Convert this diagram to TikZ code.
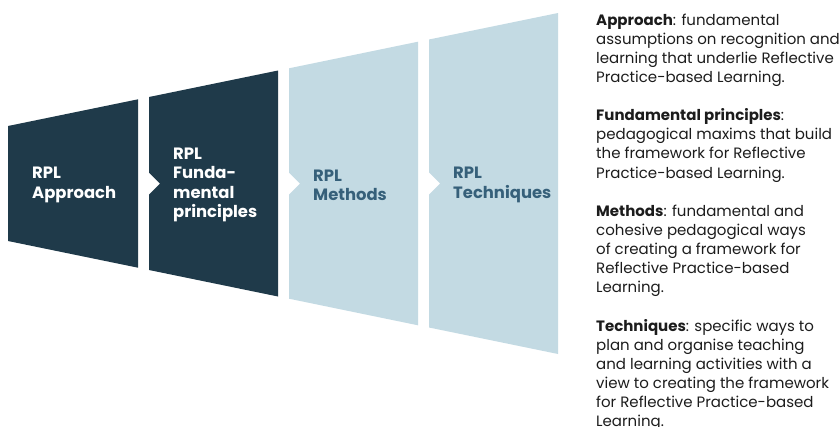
\documentclass[tikz,border=0pt]{standalone}
\usepackage{fontspec}
\setmainfont{Poppins}
\definecolor{navy}{HTML}{1F3A4A}
\definecolor{pale}{HTML}{C3DAE3}
\definecolor{paletext}{HTML}{36607A}
\definecolor{ink}{HTML}{1C1C1C}

\begin{document}
\begin{tikzpicture}[x=1pt,y=-1pt,
  label/.style={anchor=west, align=left, inner sep=0pt,
    font=\fontsize{16.4}{19.3}\selectfont\bfseries},
  desc/.style={anchor=base west, inner sep=0pt, text=ink,
    font=\fontsize{15}{19}\selectfont}]
\useasboundingbox (0,0) rectangle (840,426);

% four stages widening to the right; each later stage has a chevron notch
\fill[navy] (8,126) -- (138,99.3) -- (138,267.7) -- (8,241) -- cycle;
\fill[navy] (149,97) -- (278,70.5) -- (278,296.5) -- (149,270)
  -- (149,194.5) -- (160,183.5) -- (149,172.5) -- cycle;
\fill[pale] (289,68.3) -- (418,41.7) -- (418,325.3) -- (289,298.7)
  -- (289,194.5) -- (300,183.5) -- (289,172.5) -- cycle;
\fill[pale] (429,39.5) -- (558,13) -- (558,354) -- (429,327.5)
  -- (429,194.5) -- (440,183.5) -- (429,172.5) -- cycle;

% stage titles
\node[label, text=white]    (s1) at (32,185)  {RPL\\Approach};
\node[label, text=white]    (s2) at (173,185) {RPL\\Funda-\\mental\\principles};
\node[label, text=paletext] (s3) at (313,185) {RPL\\Methods};
\node[label, text=paletext] (s4) at (453,185) {RPL\\Techniques};

% definitions, one line per baseline
\foreach \i/\t in {
  0/{\textbf{Approach}: fundamental},
  1/{assumptions on recognition and},
  2/{learning that underlie Reflective},
  3/{Practice-based Learning.},
  5/{\textbf{Fundamental principles}:},
  6/{pedagogical maxims that build},
  7/{the framework for Reflective},
  8/{Practice-based Learning.},
  10/{\textbf{Methods}: fundamental and},
  11/{cohesive pedagogical ways},
  12/{of creating a framework for},
  13/{Reflective Practice-based},
  14/{Learning.},
  16/{\textbf{Techniques}: specific ways to},
  17/{plan and organise teaching},
  18/{and learning activities with a},
  19/{view to creating the framework},
  20/{for Reflective Practice-based},
  21/{Learning.}}
  \node[desc] (t\i) at (596,{25+19.14*\i}) {\t};
\end{tikzpicture}
\end{document}
